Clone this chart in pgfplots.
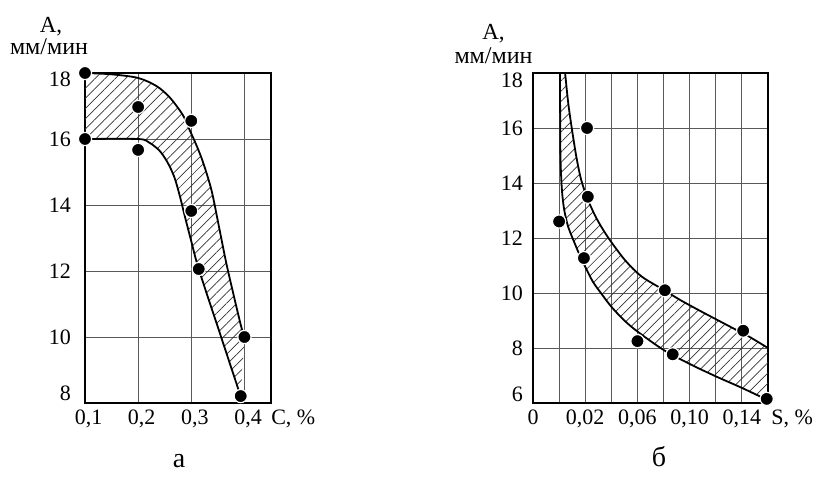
\documentclass[border=0pt]{standalone}
\usepackage{fontspec}
\setmainfont{Liberation Serif}
\usepackage{pgfplots}
\pgfplotsset{compat=1.18}
\usetikzlibrary{patterns.meta}

\pgfplotsset{
  myax/.style={
    anchor=south west, scale only axis,
    major tick length=0, minor tick length=0,
    grid style={black!65, line width=0.5pt},
    minor grid style={black!65, line width=0.5pt},
    axis line style={line width=1pt},
    tick label style={font=\fontsize{11}{13}\selectfont},
    label style={font=\fontsize{11}{13}\selectfont},
    clip=false,
    xlabel style={at={(rel axis cs:1,0)}, anchor=north west},
    extra y tick style={grid=none},
  },
  mycurve/.style={black, line width=0.9pt, smooth, mark=none},
  mypts/.style={only marks, mark=*, mark size=3.3pt, mark options={fill=black, draw=white, line width=0.6pt}},
  myhatch/.style={draw=none, mark=none, pattern={Lines[angle=45, distance=3.6pt, line width=0.35pt]}, pattern color=black!80},
}

\begin{document}
\begin{tikzpicture}
\path[use as bounding box] (0,0) rectangle (410.5pt,239.5pt);

% ---------------- (a) ----------------
\begin{axis}[myax,
  at={(42.5pt,38pt)}, width=93pt, height=165pt,
  xmin=0.1, xmax=0.45, ymin=8, ymax=18,
  xtick={0.1,0.2,0.3,0.4}, xticklabels={{0,1},{0,2},{0,3},{0,4}},
  xticklabel style={xshift=1.8pt},
  ytick={8,10,12,14,16,18}, yticklabels={,10,12,14,16,},
  extra y ticks={8.3,17.8}, extra y tick labels={8,18},
  yticklabel style={xshift=-3.5pt},
  grid=major,
  xlabel={C, \%}, xlabel style={xshift=-3.4pt},
]
\addplot[myhatch] coordinates {
 (0.1,18) (0.15,17.96) (0.2,17.85) (0.235,17.6) (0.26,17.25) (0.284,16.73)
 (0.297,16.27) (0.31,15.8) (0.322,15.3) (0.338,14.45) (0.352,13.35)
 (0.366,12.23) (0.38,11.25) (0.394,10.31) (0.4,10)
 (0.393,8.2) (0.35,10.3) (0.314,12.06) (0.3,12.9) (0.288,13.65) (0.278,14.3)
 (0.268,14.85) (0.255,15.3) (0.24,15.65) (0.22,15.9) (0.2,16) (0.1,16)} -- cycle;
\addplot[mycurve] coordinates {
 (0.1,18) (0.15,17.96) (0.2,17.85) (0.235,17.6) (0.26,17.25) (0.284,16.73)
 (0.297,16.27) (0.31,15.8) (0.322,15.3) (0.338,14.45) (0.352,13.35)
 (0.366,12.23) (0.38,11.25) (0.394,10.31) (0.4,10)};
\addplot[mycurve] coordinates {
 (0.1,16) (0.2,16) (0.22,15.9) (0.24,15.65) (0.255,15.3) (0.268,14.85)
 (0.278,14.3) (0.288,13.65) (0.3,12.9) (0.314,12.06) (0.35,10.3) (0.393,8.2)};
\addplot[mypts] coordinates {
 (0.1,18) (0.1,16) (0.2,16.97) (0.2,15.67) (0.3,16.55) (0.3,13.82)
 (0.314,12.06) (0.4,10.0) (0.393,8.21)};
\end{axis}

% ---------------- (b) ----------------
\begin{axis}[myax,
  at={(266.5pt,38pt)}, width=117.5pt, height=165pt,
  xmin=-0.02, xmax=0.16, ymin=6, ymax=18,
  xtick={-0.02,0.02,0.06,0.10,0.14},
  xticklabels={0,{0,02},{0,06},{0,10},{0,14}},
  minor xtick={0,0.04,0.08,0.12,0.16},
  ytick={6,8,10,12,14,16,18}, yticklabels={,8,10,12,14,16,},
  extra y ticks={6.31,17.75}, extra y tick labels={6,18},
  yticklabel style={xshift=-1.5pt},
  grid=both,
  xlabel={S, \%}, xlabel style={xshift=-1.8pt},
]
\addplot[myhatch] coordinates {
 (0.0046,18) (0.007,16.9) (0.01,15.9) (0.0134,14.9) (0.017,14.1)
 (0.022,13.4) (0.0288,12.7) (0.0378,12.0) (0.0504,11.2) (0.0632,10.6)
 (0.0806,10.1) (0.0926,9.75) (0.108,9.35) (0.12,9.05) (0.136,8.65)
 (0.146,8.4) (0.16,8.0)
 (0.16,6.1) (0.14,6.55) (0.12,6.97) (0.10,7.42) (0.08,7.93) (0.06,8.6)
 (0.05,9.0) (0.04,9.5) (0.032,10.0) (0.026,10.4) (0.02,10.95) (0.016,11.35)
 (0.012,11.8) (0.007,12.4) (0.004,13.0) (0.0024,13.6) (0.0016,14.2)
 (0.001,15) (0.0008,16.5) (0.0006,18)} -- cycle;
\addplot[mycurve] coordinates {
 (0.0046,18) (0.007,16.9) (0.01,15.9) (0.0134,14.9) (0.017,14.1)
 (0.022,13.4) (0.0288,12.7) (0.0378,12.0) (0.0504,11.2) (0.0632,10.6)
 (0.0806,10.1) (0.0926,9.75) (0.108,9.35) (0.12,9.05) (0.136,8.65)
 (0.146,8.4) (0.16,8.0)};
\addplot[mycurve] coordinates {
 (0.0006,18) (0.0008,16.5) (0.001,15) (0.0016,14.2) (0.0024,13.6)
 (0.004,13.0) (0.007,12.4) (0.012,11.8) (0.016,11.35) (0.02,10.95)
 (0.026,10.4) (0.032,10.0) (0.04,9.5) (0.05,9.0) (0.06,8.6) (0.08,7.93)
 (0.10,7.42) (0.12,6.97) (0.14,6.55) (0.16,6.1)};
\addplot[mypts] coordinates {
 (0.0214,16.0) (0.022,13.5) (0.0,12.6) (0.019,11.27) (0.081,10.1)
 (0.06,8.25) (0.087,7.77) (0.141,8.63) (0.159,6.15)};
\end{axis}

% axis titles and panel letters
\node[anchor=base, font=\fontsize{11.5}{13}\selectfont, inner sep=0pt] at (25.5pt,223.5pt) {A,};
\node[anchor=base, font=\fontsize{12}{13}\selectfont, inner sep=0pt] at (24.5pt,212.5pt) {мм/мин};
\node[anchor=base, font=\fontsize{11.5}{13}\selectfont, inner sep=0pt] at (246.75pt,220pt) {A,};
\node[anchor=base, font=\fontsize{12}{13}\selectfont, inner sep=0pt] at (246.75pt,208pt) {мм/мин};
\node[anchor=base, font=\fontsize{14}{16}\selectfont, inner sep=0pt] at (89.5pt,6pt) {а};
\node[anchor=base, font=\fontsize{14}{16}\selectfont, inner sep=0pt] at (329.5pt,6.5pt) {б};
\end{tikzpicture}
\end{document}
